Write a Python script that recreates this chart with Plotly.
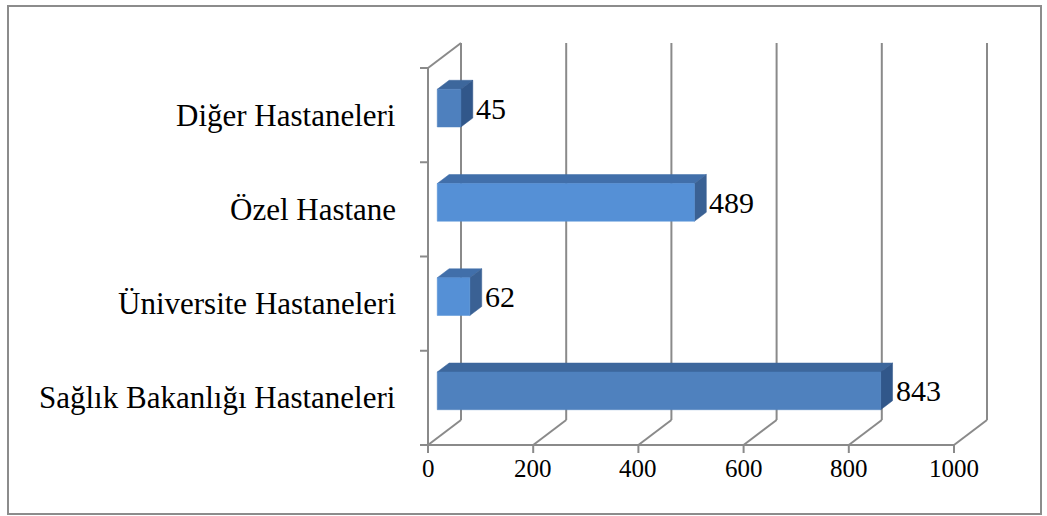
import plotly.graph_objects as go

# Hospital categories (bottom to top) and their counts
categories = ["Sağlık Bakanlığı Hastaneleri", "Üniversite Hastaneleri", "Özel Hastane", "Diğer Hastaneleri"]
values = [843, 62, 489, 45]
x_ticks = [0, 200, 400, 600, 800, 1000]

# Face colours per bar: front, top, side
front_colors = ["#4F81BE", "#5590D6", "#5590D6", "#4E80BE"]
top_colors = ["#3D679C", "#416FAA", "#416FAA", "#3D679C"]
side_colors = ["#31578A", "#3A6194", "#3A6194", "#31578A"]

W, H = 1047, 516
PX_PER_UNIT_X = 0.526     # pixels per value unit
PX_PER_CAT = 94.25        # pixels per category band
X0_PX, Y0_PX = 428, 445   # pixel of the origin on the front plane

# Oblique depth vector of the 3D box, in data units
DX = 33 / PX_PER_UNIT_X
DY = 25 / PX_PER_CAT

# Bar placement inside the depth, and bar thickness in category units
D0, D1 = 0.28, 0.64
BAR_H = 0.40

GRID = "#8A8A8A"

fig = go.Figure()


def seg(xs, ys, width=2, color=GRID):
    fig.add_trace(go.Scatter(x=xs, y=ys, mode="lines",
                             line=dict(color=color, width=width),
                             hoverinfo="skip", showlegend=False))


def face(xs, ys, color):
    fig.add_trace(go.Scatter(x=xs + [xs[0]], y=ys + [ys[0]], mode="lines",
                             fill="toself", fillcolor=color,
                             line=dict(color=color, width=0.5),
                             hoverinfo="skip", showlegend=False))


n = len(categories)
vmax = x_ticks[-1]

# Back wall verticals and floor diagonals
for v in x_ticks:
    seg([v + DX, v + DX], [DY, n + DY])
    seg([v, v + DX], [0, DY])

# Left wall: front edge, top edge, category ticks
seg([0, 0], [0, n])
seg([0, DX], [n, n + DY])
for k in range(n + 1):
    seg([0, -8 / PX_PER_UNIT_X], [k, k])

# Floor front edge with value ticks
seg([0, vmax], [0, 0])
for v in x_ticks:
    seg([v, v], [0, -8 / PX_PER_CAT])

# 3D bars
for i, (cat, val) in enumerate(zip(categories, values)):
    yc = i + 0.5
    yb0 = yc - BAR_H / 2 + D0 * DY
    yt0 = yc + BAR_H / 2 + D0 * DY
    yb1 = yc - BAR_H / 2 + D1 * DY
    yt1 = yc + BAR_H / 2 + D1 * DY
    xl0, xr0 = D0 * DX, val + D0 * DX
    xl1, xr1 = D1 * DX, val + D1 * DX
    # top face
    face([xl0, xr0, xr1, xl1], [yt0, yt0, yt1, yt1], top_colors[i])
    # side face
    face([xr0, xr1, xr1, xr0], [yb0, yb1, yt1, yt0], side_colors[i])
    # front face
    face([xl0, xr0, xr0, xl0], [yb0, yb0, yt0, yt0], front_colors[i])
    # value label
    fig.add_annotation(x=xr1, y=(yb0 + yt0) / 2, text=str(val),
                       xanchor="left", yanchor="middle", xshift=1, showarrow=False,
                       font=dict(family="Liberation Serif", size=30, color="#000000"))
    # category label
    fig.add_annotation(x=0, y=yc, text=cat, xanchor="right", yanchor="middle",
                       xshift=-30, showarrow=False,
                       font=dict(family="Liberation Serif", size=31, color="#000000"))

# Value axis tick labels
for v in x_ticks:
    fig.add_annotation(x=v, y=0, text=str(v), xanchor="center", yanchor="middle",
                       yshift=-23, showarrow=False,
                       font=dict(family="Liberation Serif", size=25, color="#000000"))

# Chart border
fig.add_shape(type="rect", xref="paper", yref="paper",
              x0=8 / W, x1=1041 / W, y0=(H - 514) / H, y1=(H - 6) / H,
              line=dict(color="#8C8C8C", width=2), fillcolor="rgba(0,0,0,0)")

fig.update_layout(
    width=W, height=H, autosize=False,
    margin=dict(l=0, r=0, t=0, b=0),
    paper_bgcolor="white", plot_bgcolor="white",
    xaxis=dict(range=[-X0_PX / PX_PER_UNIT_X, (W - X0_PX) / PX_PER_UNIT_X],
               visible=False, fixedrange=True),
    yaxis=dict(range=[(Y0_PX - H) / PX_PER_CAT, Y0_PX / PX_PER_CAT],
               visible=False, fixedrange=True),
    showlegend=False,
)

fig.write_html("out.html")
